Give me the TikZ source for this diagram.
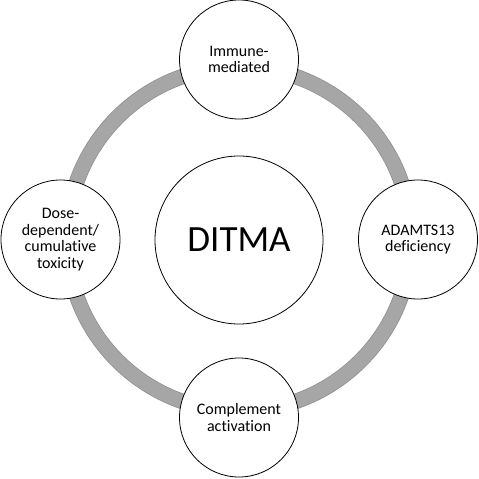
\documentclass[tikz,border=0pt]{standalone}
\usepackage{fontspec}
\setmainfont{Carlito}[Ligatures={NoCommon,NoRare,NoDiscretionary}]
\definecolor{ringgray}{HTML}{A6A6A6}
\definecolor{ringedge}{HTML}{8F8F8F}
\tikzset{
  sat/.style={circle, draw=black, line width=0.8bp, fill=white, minimum size=119bp, inner sep=0pt, align=center,
    font=\fontsize{16bp}{16.6bp}\selectfont},
  hub/.style={circle, draw=black, line width=0.8bp, fill=white, minimum size=168bp, inner sep=0pt,
    font=\fontsize{37bp}{40bp}\selectfont},
}
\begin{document}
\begin{tikzpicture}[x=1bp,y=-1bp]
\useasboundingbox (0,0) rectangle (479,479);
\coordinate (c) at (239,239);
\draw[ringedge, line width=15.5bp] (c) circle[radius=172bp];
\draw[ringgray, line width=14bp] (c) circle[radius=172bp];
\node[hub] (ditma) at (239,240) {DITMA};
\node[sat] (top) at (239,59.5) {Immune-\\mediated};
\node[sat] (right) at (418,239.5) {ADAMTS13\\deficiency};
\node[sat] (bottom) at (239,417.5) {Complement\\activation};
\node[sat] (left) at (60.5,239.5) {Dose-\\dependent/\\cumulative\\toxicity};
\end{tikzpicture}
\end{document}
